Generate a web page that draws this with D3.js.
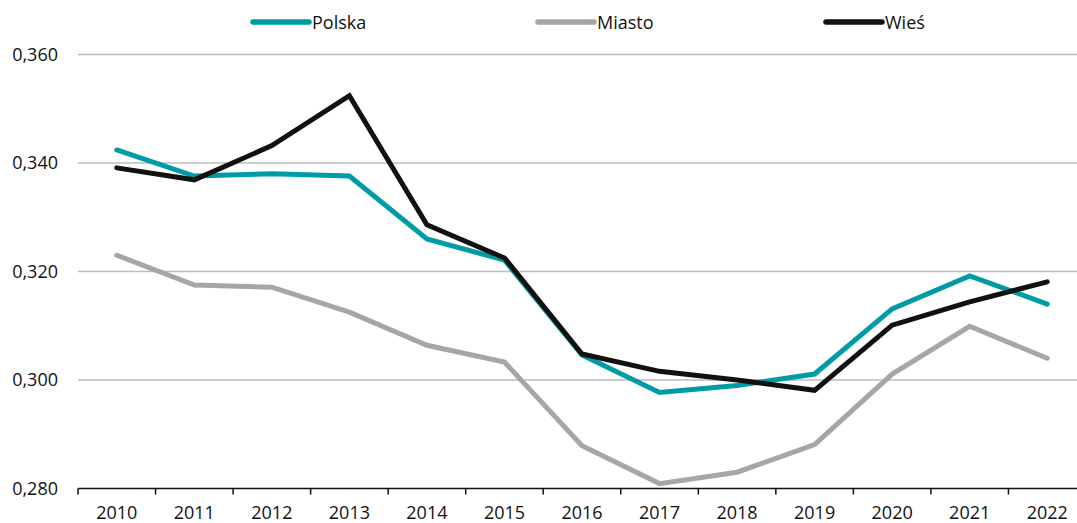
<!DOCTYPE html>
<html><head><meta charset="utf-8">
<script src="https://cdn.jsdelivr.net/npm/d3@7"></script>
<style>body{margin:0;background:#fff;overflow:hidden}text{font-family:"Open Sans","Noto Sans",sans-serif}</style>
</head><body><svg id="c" width="1077" height="523"></svg>
<script>
const years = ["2010","2011","2012","2013","2014","2015","2016","2017","2018","2019","2020","2021","2022"];
const polska = [0.3424,0.3376,0.3380,0.3376,0.3260,0.3221,0.3046,0.2977,0.2990,0.3011,0.3131,0.3192,0.3140];
const miasto = [0.3230,0.3175,0.3171,0.3125,0.3064,0.3033,0.2879,0.2809,0.2830,0.2881,0.3011,0.3099,0.3040];
const wies = [0.3391,0.3369,0.3432,0.3524,0.3286,0.3225,0.3048,0.3016,0.3000,0.2981,0.3101,0.3144,0.3181];
const yTicks = [0.280,0.300,0.320,0.340,0.360];
const seriesNames = ["Polska","Miasto","Wieś"];
const colors = ["#009CA6","#A6A6A6","#111111"];

const svg = d3.select("#c");
const x = d3.scaleBand().domain(years).range([78,1086]);
const y = d3.scaleLinear().domain([0.28,0.36]).range([488.5,54.5]);
const fmt = v => d3.format(".3f")(v).replace(".",",");

svg.append("g").selectAll("line").data(yTicks.slice(1)).join("line")
  .attr("x1",78).attr("x2",1077).attr("y1",d=>y(d)).attr("y2",d=>y(d))
  .attr("stroke","#BDBDBD").attr("stroke-width",1.3);
svg.append("g").selectAll("text").data(yTicks).join("text")
  .attr("x",58).attr("y",d=>y(d)+6).attr("text-anchor","end")
  .attr("font-size",18).attr("fill","#111").text(fmt);
const xa = svg.append("g").attr("transform","translate(0,488.5)");
xa.append("line").attr("x1",78).attr("x2",1077).attr("stroke","#111").attr("stroke-width",1.5);
const bounds = years.map(d=>x(d));
xa.selectAll("line.t").data(bounds).join("line").attr("class","t")
  .attr("x1",d=>d).attr("x2",d=>d).attr("y1",0).attr("y2",6).attr("stroke","#111").attr("stroke-width",1.5);
xa.selectAll("text").data(years).join("text")
  .attr("x",d=>x(d)+x.bandwidth()/2).attr("y",30).attr("text-anchor","middle")
  .attr("font-size",18).attr("fill","#111").text(d=>d);

const line = d3.line().x((d,i)=>x(years[i])+x.bandwidth()/2).y(d=>y(d));
[miasto,polska,wies].forEach((s,k)=>{
  const ci=[1,0,2][k];
  svg.append("path").attr("d",line(s)).attr("fill","none")
    .attr("stroke",colors[ci]).attr("stroke-width",5).attr("stroke-linejoin","miter").attr("stroke-linecap","round");
});

const legX = [253,538,826];
seriesNames.forEach((n,i)=>{
  svg.append("line").attr("x1",legX[i]).attr("x2",legX[i]+56).attr("y1",22).attr("y2",22)
    .attr("stroke",colors[i]).attr("stroke-width",5.5).attr("stroke-linecap","round");
  svg.append("text").attr("x",legX[i]+59).attr("y",28.5).attr("font-size",18).attr("fill","#111").text(n);
});
</script></body></html>
